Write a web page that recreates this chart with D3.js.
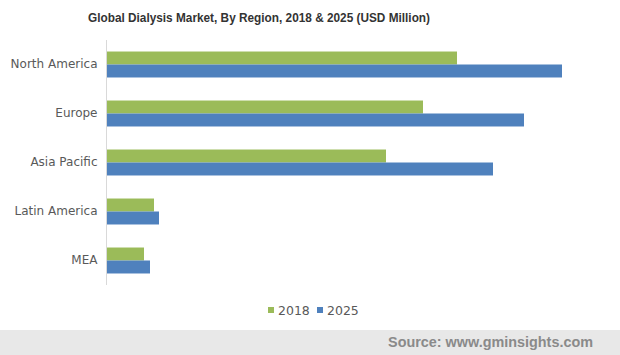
<!DOCTYPE html>
<html><head><meta charset="utf-8">
<script src="https://cdn.jsdelivr.net/npm/d3@7"></script>
<style>body{margin:0;background:#fff}svg{display:block}</style>
</head><body>
<svg id="c" width="620" height="355"></svg>
<script>
const categories = ["North America", "Europe", "Asia Pacific", "Latin America", "MEA"];
const seriesNames = ["2018", "2025"];
const values2018 = [35000, 31600, 27900, 4700, 3700];
const values2025 = [45500, 41700, 38600, 5200, 4300];
const colors = ["#9bbb59", "#4f81bd"];

(function () {
const svg = d3.select("#c");
const W = 620;
const mLeft = 107, mTop = 40, mBottom = 285;

svg.append("text").attr("x", 259).attr("y", 22).attr("text-anchor", "middle")
  .attr("font-family", "Liberation Sans, Arial, sans-serif").attr("font-weight", "bold")
  .attr("font-size", 13).attr("textLength", 342).attr("lengthAdjust", "spacingAndGlyphs")
  .attr("fill", "#333").text("Global Dialysis Market, By Region, 2018 & 2025 (USD Million)");

const y = d3.scaleBand().domain(categories).range([mTop, mBottom]).paddingInner(0.47).paddingOuter(0.235);
const x = d3.scaleLinear().domain([0, 50000]).range([mLeft, mLeft + 500]);
const ys = d3.scaleBand().domain(seriesNames).range([0, y.bandwidth()]);

const data = categories.map((c, i) => ({c, vals: [values2018[i], values2025[i]]}));
const g = svg.append("g");
data.forEach(d => {
  d.vals.forEach((v, j) => {
    g.append("rect").attr("x", x(0)).attr("y", y(d.c) + ys(seriesNames[j]))
      .attr("width", x(v) - x(0)).attr("height", ys.bandwidth()).attr("fill", colors[j]);
  });
});

const yAxis = svg.append("g").attr("transform", `translate(${mLeft - 0.5},0)`)
  .call(d3.axisLeft(y).tickSize(0).tickPadding(9));
yAxis.select(".domain").attr("stroke", "#d9d9d9").attr("d", `M0,${mTop}V${mBottom}`);
yAxis.selectAll("text").attr("font-family", "DejaVu Sans, Verdana, sans-serif").attr("font-size", 12).attr("fill", "#595959");

const leg = svg.append("g");
const legX = [268, 317];
seriesNames.forEach((s, j) => {
  leg.append("rect").attr("x", legX[j]).attr("y", 307).attr("width", 6).attr("height", 6).attr("fill", colors[j]);
  leg.append("text").attr("x", legX[j] + 10).attr("y", 315).attr("font-family", "DejaVu Sans, Verdana, sans-serif")
    .attr("font-size", 12.5).attr("fill", "#595959").text(s);
});

svg.append("rect").attr("x", 0).attr("y", 330).attr("width", W).attr("height", 25).attr("fill", "#e8e8e8");
svg.append("text").attr("x", 593).attr("y", 347).attr("text-anchor", "end")
  .attr("font-family", "Liberation Sans, Arial, sans-serif").attr("font-weight", "bold")
  .attr("font-size", 14.4).attr("fill", "#8a8a8a").text("Source: www.gminsights.com");
})();
</script>
</body></html>
